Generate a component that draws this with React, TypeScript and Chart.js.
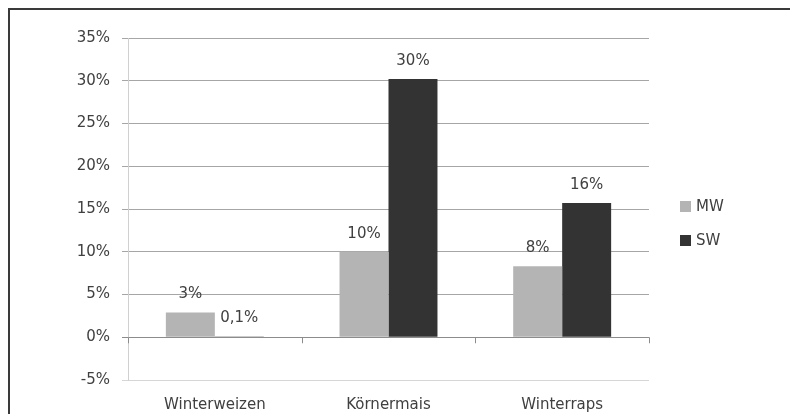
import React, { useEffect, useRef } from "react";
import { Chart, registerables } from "chart.js";

Chart.register(...registerables);

const categories = ["Winterweizen", "Körnermais", "Winterraps"];
const seriesNames = ["MW", "SW"];
const mwValues = [2.9, 10.0, 8.3];
const swValues = [0.1, 30.2, 15.7];
const yTicks = [-5, 0, 5, 10, 15, 20, 25, 30, 35];

const FONT = "'DejaVu Sans', sans-serif";
const TEXT = "#404040";
const COLORS = ["#b4b4b4", "#333333"];

const fmt = (v: number) =>
  v.toLocaleString("de-DE", { maximumFractionDigits: Math.abs(v) < 1 ? 1 : 0 }) + "%";

const framePlugin = {
  id: "frame",
  beforeDraw(chart: any) {
    const { ctx, width, height } = chart;
    ctx.save();
    ctx.fillStyle = "#ffffff";
    ctx.fillRect(0, 0, width, height);
    ctx.fillStyle = "#3a3a3a";
    ctx.fillRect(8, 8, width - 8, 2);
    ctx.fillRect(8, 8, 2, height - 8);
    ctx.restore();
  },
};

const extrasPlugin = {
  id: "extras",
  afterDatasetsDraw(chart: any) {
    const { ctx, chartArea } = chart;
    const x = chart.scales.x;
    const y = chart.scales.y;
    const y0 = y.getPixelForValue(0);
    ctx.save();
    // category boundary ticks on the zero line
    ctx.strokeStyle = "#8c8c8c";
    ctx.lineWidth = 1;
    for (let i = 0; i <= categories.length; i++) {
      const px = Math.round(x.getPixelForValue(i - 0.5)) + 0.5;
      ctx.beginPath();
      ctx.moveTo(px, y0);
      ctx.lineTo(px, y0 + 6);
      ctx.stroke();
    }
    // data labels
    ctx.font = `15px ${FONT}`;
    ctx.fillStyle = TEXT;
    ctx.textAlign = "center";
    ctx.textBaseline = "middle";
    chart.data.datasets.forEach((ds: any, di: number) => {
      const meta = chart.getDatasetMeta(di);
      meta.data.forEach((el: any, i: number) => {
        ctx.fillText(fmt(ds.data[i]), el.x, el.y - 18);
      });
    });
    // legend
    const lx = chartArea.right + 31;
    const ly = chartArea.top + 168;
    ctx.textAlign = "left";
    chart.data.datasets.forEach((ds: any, di: number) => {
      const cy = ly + di * 34;
      ctx.fillStyle = ds.backgroundColor;
      ctx.fillRect(lx, cy - 5, 11, 11);
      ctx.fillStyle = TEXT;
      ctx.fillText(ds.label, lx + 16, cy + 1);
    });
    ctx.restore();
  },
};

export default function App() {
  const ref = useRef<HTMLCanvasElement>(null);
  useEffect(() => {
    document.documentElement.style.overflow = "hidden";
    document.body.style.overflow = "hidden";
    const chart = new Chart(ref.current!, {
      type: "bar",
      data: {
        labels: categories,
        datasets: [
          { label: seriesNames[0], data: mwValues, backgroundColor: COLORS[0] },
          { label: seriesNames[1], data: swValues, backgroundColor: COLORS[1] },
        ],
      },
      options: {
        animation: false,
        responsive: false,
        layout: { padding: { top: 38, right: 141, left: 8, bottom: 0 } },
        plugins: { legend: { display: false }, tooltip: { enabled: false } },
        datasets: { bar: { categoryPercentage: 0.564, barPercentage: 1 } },
        scales: {
          x: {
            grid: { display: false, drawTicks: false, tickLength: 0 },
            border: { display: false },
            afterFit: (scale: any) => {
              scale.height = 34;
            },
            ticks: { color: TEXT, font: { family: FONT, size: 15 }, padding: 16, maxRotation: 0 },
          },
          y: {
            min: -5,
            max: 35,
            afterBuildTicks: (scale: any) => {
              scale.ticks = yTicks.map((v) => ({ value: v }));
            },
            afterFit: (scale: any) => {
              scale.width = 120;
            },
            grid: {
              color: (c: any) =>
                c.tick && c.tick.value === 0 ? "#8c8c8c" : c.tick && c.tick.value === -5 ? "#d6d6d6" : "#a6a6a6",
              tickLength: 6,
            },
            border: { color: "#d0d0d0" },
            ticks: {
              color: TEXT,
              font: { family: FONT, size: 15 },
              padding: 12,
              callback: (v: any) => v + "%",
            },
          },
        },
      },
      plugins: [framePlugin, extrasPlugin],
    });
    return () => chart.destroy();
  }, []);
  return (
    <div style={{ position: "fixed", left: 0, top: 0, width: 790, height: 414 }}>
      <canvas ref={ref} width={790} height={414} style={{ display: "block", width: 790, height: 414 }} />
    </div>
  );
}
